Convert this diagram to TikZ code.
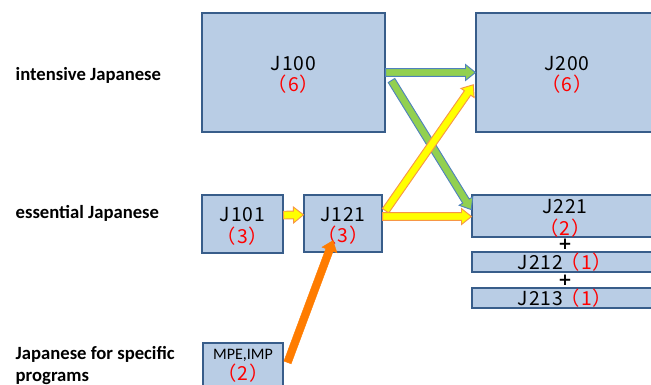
\documentclass[tikz,border=0pt]{standalone}
\usepackage{fontspec}
\setmainfont{Carlito}
\newfontfamily\jfont[LetterSpace=5]{Noto Sans CJK JP}
\newfontfamily\plusfont{DejaVu Sans}
\usetikzlibrary{calc}
\definecolor{boxfill}{HTML}{B9CDE5}
\definecolor{boxline}{HTML}{385D8A}
\definecolor{arrgreen}{HTML}{92D050}
\definecolor{arrgreenline}{HTML}{4F81BD}
\definecolor{arryellow}{HTML}{FFFF00}
\definecolor{arryellowline}{HTML}{F79646}
\definecolor{arrorange}{HTML}{FF7C00}

% block arrow: #1 style, #2 start, #3 tip
\newcommand{\blockarrow}[3]{%
    \filldraw[#1] let \p1=(#2), \p2=(#3),
        \n1={atan2(\y2-\y1,\x2-\x1)}, \n2={veclen(\x2-\x1,\y2-\y1)} in
        [shift={(\p1)}, rotate=\n1]
        (0pt,-2.9pt) -- ({\n2*1pt-7.5pt},-2.9pt) -- ({\n2*1pt-7.5pt},-6pt)
        -- ({\n2*1pt},0pt) -- ({\n2*1pt-7.5pt},6pt) -- ({\n2*1pt-7.5pt},2.9pt)
        -- (0pt,2.9pt) -- cycle;
}
\newcommand{\tallstrut}{\rule{0pt}{14pt}}

\begin{document}
\begin{tikzpicture}[x=0.75pt, y=-0.75pt,
    course/.style={draw=boxline, fill=boxfill, line width=0.8pt, inner sep=0pt,
        align=center, font=\jfont\fontsize{14.5}{16}\selectfont},
    level/.style={anchor=west, align=left, font=\bfseries\fontsize{14}{16.5}\selectfont},
    plus/.style={font=\plusfont\bfseries\fontsize{12.5}{12.5}\selectfont, inner sep=0pt},
    greenarrow/.style={fill=arrgreen, draw=arrgreenline, line width=0.7pt},
    yellowarrow/.style={fill=arryellow, draw=arryellowline, line width=0.7pt},
    orangearrow/.style={fill=arrorange, draw=arrorange, line width=0.3pt}]
    \useasboundingbox (0,0) rectangle (651,385);
    \clip (0,0) rectangle (651,385);

    \node[level] (intensive) at (11,75) {intensive Japanese};
    \node[level] (essential) at (11,213) {essential Japanese};
    \node[level] (specific) at (11,366) {Japanese for specific\\programs};

    \node[course, minimum width=137.25pt, minimum height=89.25pt] (J100) at (293.5,72.5)
        {\tallstrut J100\\\textcolor{red}{（6）}};
    \node[course, minimum width=136.5pt, minimum height=89.25pt] (J200) at (567,72.5)
        {\tallstrut J200\\\textcolor{red}{（6）}};
    \node[course, minimum width=60.75pt, minimum height=43.5pt] (J101) at (242.5,224)
        {\tallstrut J101\\\textcolor{red}{（3）}};
    \node[course, minimum width=58.5pt, minimum height=42.75pt] (J121) at (343,223.5)
        {\tallstrut J121\\\textcolor{red}{（3）}};
    \node[course, minimum width=139.5pt, minimum height=31.5pt] (J221) at (565,216)
        {\tallstrut J221\\\textcolor{red}{（2）}};
    \node[course, minimum width=139.5pt, minimum height=15pt] (J212) at (565,262)
        {J212\kern-2pt\textcolor{red}{（1）}};
    \node[course, minimum width=139.5pt, minimum height=15pt] (J213) at (565,298)
        {J213\kern-2pt\textcolor{red}{（1）}};
    \node[course, minimum width=60pt, minimum height=34.5pt] (MPE) at (243,366)
        {\rmfamily\fontsize{12}{16}\selectfont MPE,IMP\\\jfont\textcolor{red}{（2）}};

    \node[plus] (plusA) at (565,244.5) {+};
    \node[plus] (plusB) at (565,280.5) {+};

    \coordinate (a1) at ($(J101.north east)!0.35!(J101.south east)$);
    \coordinate (a2) at ($(J121.north west)!0.35!(J121.south west)$);
    \coordinate (b1) at ($(J121.north east)!0.38!(J121.south east)$);
    \coordinate (b2) at (J221.west |- b1);
    \coordinate (c1) at ($(J121.north east)!0.28!(J121.south east)+(3,0)$);
    \coordinate (c2) at ($(J200.north west)!0.6!(J200.south west)+(-2,0)$);
    \coordinate (d1) at ($(J100.east)+(6,8)$);
    \coordinate (d2) at ($(J221.north west)!0.36!(J221.south west)$);
    \coordinate (e1) at ($(MPE.north east)+(4,20)$);
    \coordinate (e2) at ($(J121.south)+(-10,-12)$);

    \blockarrow{greenarrow}{J100.east}{J200.west}
    \blockarrow{greenarrow}{d1}{d2}
    \blockarrow{yellowarrow}{c1}{c2}
    \blockarrow{yellowarrow}{b1}{b2}
    \blockarrow{yellowarrow}{a1}{a2}
    \blockarrow{orangearrow}{e1}{e2}
\end{tikzpicture}
\end{document}
